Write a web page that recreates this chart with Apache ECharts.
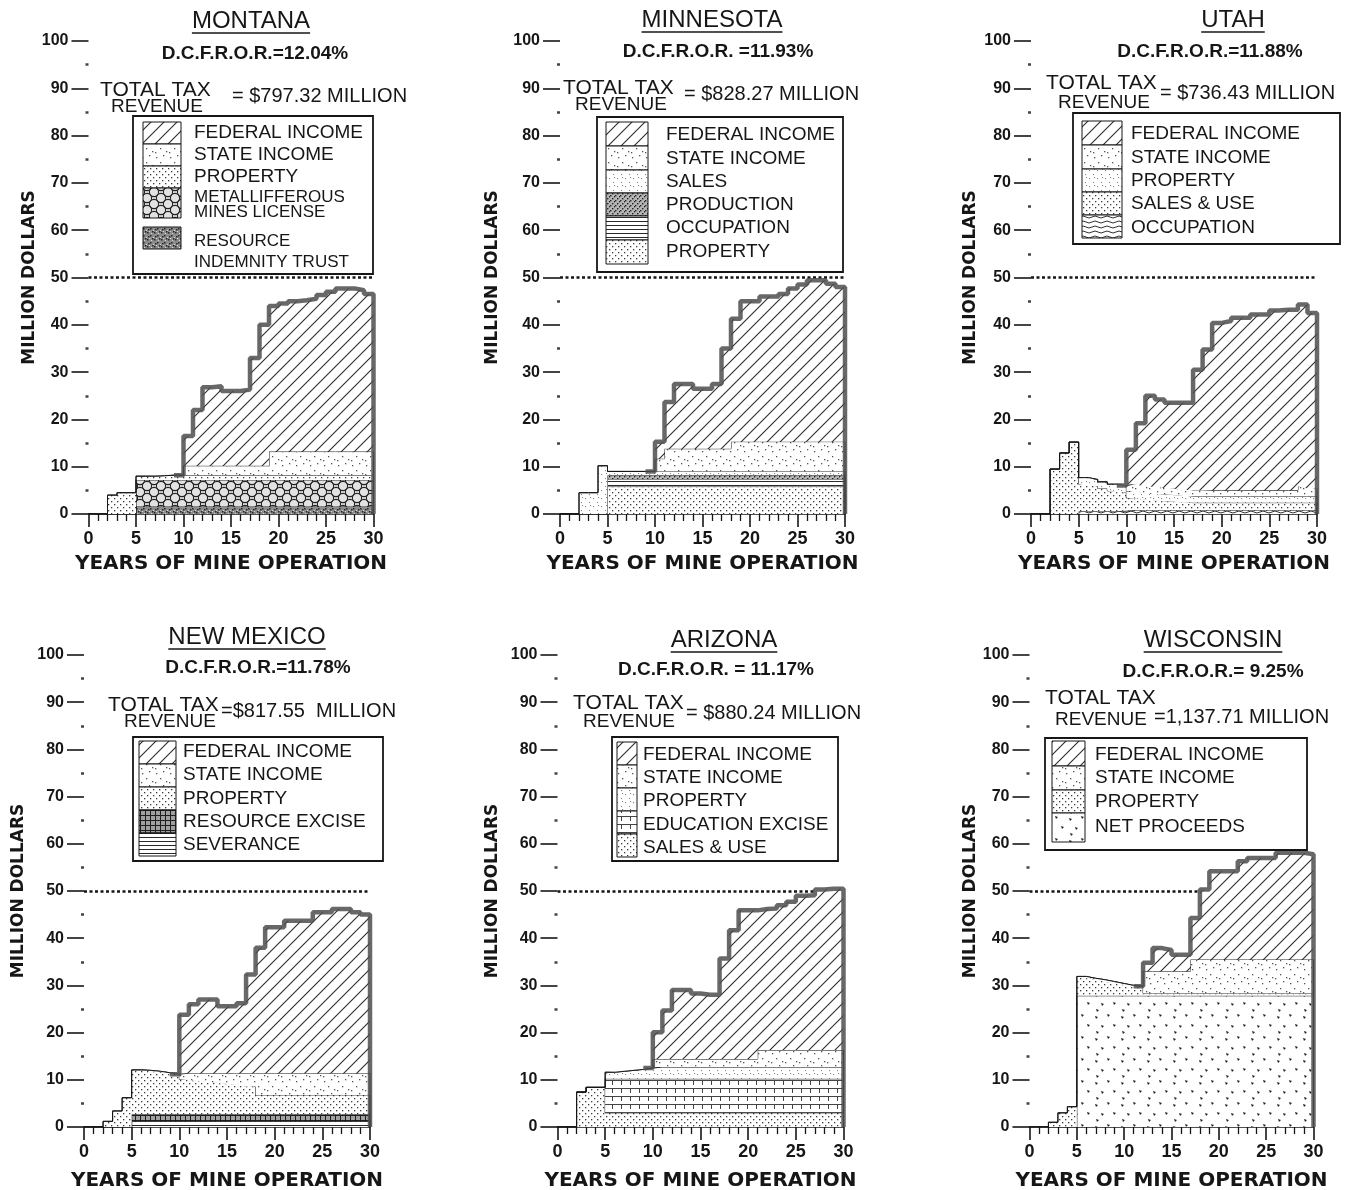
<!DOCTYPE html>
<html>
<head>
<meta charset="utf-8">
<title>Tax revenue over mine life by state</title>
<script src="https://cdn.jsdelivr.net/npm/echarts@6.0.0/dist/echarts.min.js"></script>
<style>
  html, body { margin: 0; padding: 0; background: #fff; }
  #chart { width: 1372px; height: 1190px; }
</style>
</head>
<body>
<div id="chart"></div>
<script>
// ---------------------------------------------------------------
// Annual tax payments (million dollars) for years 0..30 of mine life.
// Each year's value applies to the interval [year, year + 1).
// ---------------------------------------------------------------
const YEARS = [0,1,2,3,4,5,6,7,8,9,10,11,12,13,14,15,16,17,18,19,20,21,22,23,24,25,26,27,28,29,30];
const Y_TICKS = [0,10,20,30,40,50,60,70,80,90,100];
const X_TICKS = [0,5,10,15,20,25,30];

// Montana
const MT_RIT      = [0,0,0,0,0, 1.6,1.6,1.6,1.6,1.6, 1.6,1.6,1.6,1.6,1.6, 1.6,1.6,1.6,1.6,1.6, 1.6,1.6,1.6,1.6,1.6, 1.6,1.6,1.6,1.6,1.6, 0];
const MT_MML      = [0,0,0,0,0, 5.6,5.6,5.6,5.6,5.6, 5.6,5.6,5.6,5.6,5.6, 5.6,5.6,5.6,5.6,5.6, 5.6,5.6,5.6,5.6,5.6, 5.6,5.6,5.6,5.6,5.6, 0];
const MT_PROPERTY = [0,0,4.0,4.5,4.5, 0.8,0.8,0.9,1.0,1.0, 1.0,1.0,1.0,1.0,1.0, 1.0,1.0,1.0,1.0,1.0, 1.0,1.0,1.0,1.0,1.0, 1.0,1.0,1.0,1.0,1.0, 0];
const MT_STATE    = [0,0,0,0,0, 0,0,0,0,0, 2.0,2.0,2.0,2.0,2.0, 2.0,2.0,2.0,2.0,5.0, 5.0,5.0,5.0,5.0,5.0, 5.0,5.0,5.0,5.0,5.0, 0];
const MT_FEDERAL  = [null,null,null,null,null, null,null,null,null,0, 6.3,11.8,16.6,16.8,15.8, 15.8,16.1,22.8,29.8,30.8, 31.3,31.8,32.0,32.3,33.1, 33.8,34.5,34.5,34.1,33.3, 0];

// Minnesota
const MN_PROPERTY   = [0,0,0,0,0, 5.8,5.8,5.8,5.8,5.8, 5.8,5.8,5.8,5.8,5.8, 5.8,5.8,5.8,5.8,5.8, 5.8,5.8,5.8,5.8,5.8, 5.8,5.8,5.8,5.8,5.8, 0];
const MN_OCCUPATION = [0,0,0,0,0, 1.6,1.6,1.6,1.6,1.6, 1.6,1.6,1.6,1.6,1.6, 1.6,1.6,1.6,1.6,1.6, 1.6,1.6,1.6,1.6,1.6, 1.6,1.6,1.6,1.6,1.6, 0];
const MN_PRODUCTION = [0,0,0,0,0, 0.8,0.8,0.8,0.8,0.8, 0.8,0.8,0.8,0.8,0.8, 0.8,0.8,0.8,0.8,0.8, 0.8,0.8,0.8,0.8,0.8, 0.8,0.8,0.8,0.8,0.8, 0];
const MN_SALES      = [0,0,4.5,4.5,10.2, 0.8,0.8,0.8,0.8,0.8, 0.8,0.8,0.8,0.8,0.8, 0.8,0.8,0.8,0.8,0.8, 0.8,0.8,0.8,0.8,0.8, 0.8,0.8,0.8,0.8,0.8, 0];
const MN_STATE      = [0,0,0,0,0, 0,0,0,0,0, 2.7,4.8,4.8,4.8,4.8, 4.8,4.8,4.8,6.3,6.3, 6.3,6.3,6.3,6.3,6.3, 6.3,6.3,6.3,6.3,6.3, 0];
const MN_FEDERAL    = [null,null,null,null,null, null,null,null,null,0, 3.6,9.9,13.7,13.7,12.7, 12.7,13.7,21.2,26.0,29.7, 29.7,30.7,30.7,31.2,32.4, 33.2,34.1,34.1,33.4,32.7, 0];

// Utah
const UT_OCCUPATION = [0,0,0,0,0, 0.6,0.6,0.6,0.6,0.6, 0.8,0.8,0.8,0.8,0.8, 0.8,0.8,0.8,0.8,0.8, 0.8,0.8,0.8,0.8,0.8, 0.8,0.8,0.8,0.8,0.8, 0];
const UT_SALES_USE  = [0,0,9.5,12.9,15.2, 5.7,5.3,4.8,4.3,4.0, 2.6,2.4,2.2,2.0,1.9, 1.8,1.6,1.6,1.6,1.6, 1.6,1.6,1.6,1.6,1.6, 1.6,1.6,1.6,1.6,1.6, 0];
const UT_PROPERTY   = [0,0,0,0,0, 1.4,1.4,1.4,1.4,1.4, 1.4,1.4,1.4,1.4,1.4, 1.4,1.4,1.4,1.4,1.4, 1.4,1.4,1.4,1.4,1.4, 1.4,1.4,1.4,1.4,1.4, 0];
const UT_STATE      = [0,0,0,0,0, 0,0,0,0,0, 1.6,1.6,1.5,1.5,1.4, 1.4,1.3,1.3,1.2,1.2, 1.2,1.2,1.2,1.2,1.2, 1.2,1.2,1.2,2.0,1.6, 0];
const UT_FEDERAL    = [null,null,null,null,null, null,null,null,null,0, 7.2,13.0,19.1,18.5,18.0, 18.1,18.4,25.4,29.8,35.4, 35.8,36.5,36.5,37.2,37.2, 38.0,38.2,38.2,38.5,37.1, 0];

// New Mexico
const NM_SEVERANCE = [0,0,0,0,0, 1.2,1.2,1.2,1.2,1.2, 1.2,1.2,1.2,1.2,1.2, 1.2,1.2,1.2,1.2,1.2, 1.2,1.2,1.2,1.2,1.2, 1.2,1.2,1.2,1.2,1.2, 0];
const NM_EXCISE    = [0,0,0,0,0, 1.5,1.5,1.5,1.5,1.5, 1.5,1.5,1.5,1.5,1.5, 1.5,1.5,1.5,1.5,1.5, 1.5,1.5,1.5,1.5,1.5, 1.5,1.5,1.5,1.5,1.5, 0];
const NM_PROPERTY  = [0,0,1.2,3.4,6.2, 9.4,9.3,9.1,8.8,8.5, 7.4,7.2,7.0,6.8,6.6, 6.4,6.2,5.9,4.1,4.1, 4.1,4.1,4.1,4.1,4.1, 4.1,4.1,4.1,4.1,4.1, 0];
const NM_STATE     = [0,0,0,0,0, 0,0,0,0,0, 1.3,1.5,1.7,1.9,2.1, 2.3,2.5,2.8,4.6,4.6, 4.6,4.6,4.6,4.6,4.6, 4.6,4.6,4.6,4.6,4.6, 0];
const NM_FEDERAL   = [null,null,null,null,null, null,null,null,null,0, 12.4,14.6,15.6,15.6,14.2, 14.2,14.8,20.9,26.6,30.9, 30.9,32.3,32.3,32.3,34.1, 34.1,34.8,34.8,34.1,33.6, 0];

// Arizona
const AZ_SALES_USE = [0,0,7.4,8.4,8.4, 3.0,3.0,3.0,3.0,3.0, 3.0,3.0,3.0,3.0,3.0, 3.0,3.0,3.0,3.0,3.0, 3.0,3.0,3.0,3.0,3.0, 3.0,3.0,3.0,3.0,3.0, 0];
const AZ_EDUCATION = [0,0,0,0,0, 7.2,7.2,7.2,7.2,7.2, 7.2,7.2,7.2,7.2,7.2, 7.2,7.2,7.2,7.2,7.2, 7.2,7.2,7.2,7.2,7.2, 7.2,7.2,7.2,7.2,7.2, 0];
const AZ_PROPERTY  = [0,0,0,0,0, 1.4,1.6,1.8,2.0,2.3, 2.5,2.5,2.5,2.5,2.5, 2.5,2.5,2.5,2.5,2.5, 2.5,2.5,2.5,2.5,2.5, 2.5,2.5,2.5,2.5,2.5, 0];
const AZ_STATE     = [0,0,0,0,0, 0,0,0,0,0, 1.7,1.7,1.7,1.7,1.7, 1.7,1.7,1.7,1.7,1.7, 1.7,3.6,3.6,3.6,3.6, 3.6,3.6,3.6,3.6,3.6, 0];
const AZ_FEDERAL   = [null,null,null,null,null, null,null,null,null,0, 5.7,10.3,14.6,14.6,13.9, 13.6,13.6,21.3,27.3,31.5, 31.5,29.9,30.0,30.7,31.4, 32.7,32.8,34.0,34.2,34.2, 0];

// Wisconsin
const WI_NET_PROCEEDS = [0,0,0,0,0, 27.8,27.8,27.8,27.8,27.8, 27.8,27.8,27.8,27.8,27.8, 27.8,27.8,27.8,27.8,27.8, 27.8,27.8,27.8,27.8,27.8, 27.8,27.8,27.8,27.8,27.8, 0];
const WI_PROPERTY     = [0,0,1.0,3.0,4.3, 4.1,3.7,3.4,3.0,2.6, 2.2,2.0,0.5,0.5,0.5, 0.5,0.5,0.5,0.5,0.5, 0.5,0.5,0.5,0.5,0.5, 0.5,0.5,0.5,0.5,0.5, 0];
const WI_STATE        = [0,0,0,0,0, 0,0,0,0,0, 0,0,4.7,4.7,4.7, 4.7,4.7,7.2,7.2,7.2, 7.2,7.2,7.2,7.2,7.2, 7.2,7.2,7.2,7.2,7.2, 0];
const WI_FEDERAL      = [null,null,null,null,null, null,null,null,null,null, null,0,1.8,4.9,4.5, 3.5,3.5,8.8,14.8,18.7, 18.7,18.7,20.8,21.5,21.5, 21.5,22.6,22.6,22.6,22.3, 0];

// ---------------------------------------------------------------
// Styling
// ---------------------------------------------------------------
const INK = '#161616';
const SANS = '"Liberation Sans", Arial, sans-serif';
const WIDE = '"DejaVu Sans", sans-serif';

function tile(w, h, bg, paint) {
  const c = document.createElement('canvas');
  c.width = w; c.height = h;
  const g = c.getContext('2d');
  g.fillStyle = bg; g.fillRect(0, 0, w, h);
  paint(g);
  return { image: c, repeat: 'repeat' };
}
function specks(g, color, size, pts) {
  g.fillStyle = color;
  for (const [x, y] of pts) g.fillRect(x, y, size, size);
}

// Fill textures used for the tax categories
const TEX = {
  hatch: tile(13, 13, '#fff', g => {
    g.strokeStyle = '#2c2c2c'; g.lineWidth = 1.1;
    g.beginPath();
    g.moveTo(-2, 15); g.lineTo(15, -2);
    g.moveTo(-2, 2); g.lineTo(2, -2);
    g.moveTo(11, 15); g.lineTo(15, 11);
    g.stroke();
  }),
  sparse: tile(14, 14, '#fff', g => specks(g, '#555', 1.3, [[2,3],[9,1],[6,8],[12,11],[1,12]])),
  dots: tile(6, 6, '#fff', g => specks(g, '#3a3a3a', 1.3, [[0,0],[3,3]])),
  fine: tile(8, 8, '#fff', g => specks(g, '#888', 1.1, [[1,2],[5,6],[6,1]])),
  dense: tile(5, 5, '#b4b4b4', g => specks(g, '#222', 1.4, [[0,0],[2,3],[4,1]])),
  rit: tile(7, 7, '#8c8c8c', g => {
    specks(g, '#262626', 1.5, [[0,1],[3,4],[5,0],[1,5]]);
    specks(g, '#d8d8d8', 1, [[4,2],[2,0],[6,6]]);
  }),
  chain: tile(14, 12, '#e2e2e2', g => {
    g.strokeStyle = '#222'; g.lineWidth = 1.1;
    [[7,6],[0,0],[14,0],[0,12],[14,12]].forEach(([x, y]) => {
      g.beginPath(); g.arc(x, y, 4.6, 0, Math.PI * 2); g.stroke();
    });
  }),
  hlines: tile(6, 4, '#fff', g => { g.fillStyle = '#2a2a2a'; g.fillRect(0, 1, 6, 1); }),
  waves: tile(12, 5, '#fff', g => {
    g.strokeStyle = '#333'; g.lineWidth = 1;
    g.beginPath(); g.moveTo(0, 2);
    g.quadraticCurveTo(3, 0, 6, 2); g.quadraticCurveTo(9, 4, 12, 2);
    g.stroke();
  }),
  cross: tile(5, 5, '#a0a0a0', g => { g.fillStyle = '#1e1e1e'; g.fillRect(0, 0, 5, 1); g.fillRect(0, 0, 1, 5); }),
  grid: tile(9, 8, '#fff', g => { g.fillStyle = '#444'; g.fillRect(0, 0, 9, 1); g.fillRect(0, 0, 1, 5); }),
  tri: tile(26, 22, '#fff', g => {
    g.fillStyle = '#222';
    [[3,4],[15,2],[9,13],[21,12],[4,19]].forEach(([x, y]) => {
      g.beginPath(); g.moveTo(x, y); g.lineTo(x + 3, y + 1); g.lineTo(x + 1, y + 3); g.closePath(); g.fill();
    });
  })
};

// Plot rectangles and axis-name offsets for the six panels
const GRIDS = [
  { left: 88.5,  top: 41,  width: 285, height: 473, yNameGap: 47, xNameGap: 40 },
  { left: 560,   top: 41,  width: 285, height: 473, yNameGap: 59, xNameGap: 40 },
  { left: 1031,  top: 41,  width: 286, height: 473, yNameGap: 52, xNameGap: 40 },
  { left: 84,    top: 655, width: 286, height: 472, yNameGap: 57, xNameGap: 44 },
  { left: 557.5, top: 655, width: 286, height: 472, yNameGap: 56, xNameGap: 44 },
  { left: 1029.5,top: 655, width: 284, height: 472, yNameGap: 49, xNameGap: 44 }
];

// Stacks are listed bottom to top; legends are listed top to bottom.
const PANELS = [
  {
    title: 'MONTANA', rate: 'D.C.F.R.O.R.=12.04%', amount: '= $797.32 MILLION',
    layers: [
      [MT_RIT, 'rit'], [MT_MML, 'chain'], [MT_PROPERTY, 'dots'], [MT_STATE, 'sparse'], [MT_FEDERAL, 'hatch']
    ],
    legend: [
      { lines: ['FEDERAL INCOME'], tex: 'hatch' },
      { lines: ['STATE INCOME'], tex: 'sparse' },
      { lines: ['PROPERTY'], tex: 'dots' },
      { lines: ['METALLIFFEROUS', 'MINES LICENSE'], tex: 'chain' },
      { lines: ['RESOURCE', 'INDEMNITY TRUST'], tex: 'rit' }
    ]
  },
  {
    title: 'MINNESOTA', rate: 'D.C.F.R.O.R. =11.93%', amount: '= $828.27 MILLION',
    layers: [
      [MN_PROPERTY, 'dots'], [MN_OCCUPATION, 'hlines'], [MN_PRODUCTION, 'dense'], [MN_SALES, 'fine'],
      [MN_STATE, 'sparse'], [MN_FEDERAL, 'hatch']
    ],
    legend: [
      { lines: ['FEDERAL INCOME'], tex: 'hatch' },
      { lines: ['STATE INCOME'], tex: 'sparse' },
      { lines: ['SALES'], tex: 'fine' },
      { lines: ['PRODUCTION'], tex: 'dense' },
      { lines: ['OCCUPATION'], tex: 'hlines' },
      { lines: ['PROPERTY'], tex: 'dots' }
    ]
  },
  {
    title: 'UTAH', rate: 'D.C.F.R.O.R.=11.88%', amount: '= $736.43 MILLION',
    layers: [
      [UT_OCCUPATION, 'waves'], [UT_SALES_USE, 'dots'], [UT_PROPERTY, 'fine'], [UT_STATE, 'sparse'], [UT_FEDERAL, 'hatch']
    ],
    legend: [
      { lines: ['FEDERAL INCOME'], tex: 'hatch' },
      { lines: ['STATE INCOME'], tex: 'sparse' },
      { lines: ['PROPERTY'], tex: 'fine' },
      { lines: ['SALES & USE'], tex: 'dots' },
      { lines: ['OCCUPATION'], tex: 'waves' }
    ]
  },
  {
    title: 'NEW MEXICO', rate: 'D.C.F.R.O.R.=11.78%', amount: '=$817.55  MILLION',
    layers: [
      [NM_SEVERANCE, 'hlines'], [NM_EXCISE, 'cross'], [NM_PROPERTY, 'dots'], [NM_STATE, 'sparse'], [NM_FEDERAL, 'hatch']
    ],
    legend: [
      { lines: ['FEDERAL INCOME'], tex: 'hatch' },
      { lines: ['STATE INCOME'], tex: 'sparse' },
      { lines: ['PROPERTY'], tex: 'dots' },
      { lines: ['RESOURCE EXCISE'], tex: 'cross' },
      { lines: ['SEVERANCE'], tex: 'hlines' }
    ]
  },
  {
    title: 'ARIZONA', rate: 'D.C.F.R.O.R. = 11.17%', amount: '= $880.24 MILLION',
    layers: [
      [AZ_SALES_USE, 'dots'], [AZ_EDUCATION, 'grid'], [AZ_PROPERTY, 'fine'], [AZ_STATE, 'sparse'], [AZ_FEDERAL, 'hatch']
    ],
    legend: [
      { lines: ['FEDERAL INCOME'], tex: 'hatch' },
      { lines: ['STATE INCOME'], tex: 'sparse' },
      { lines: ['PROPERTY'], tex: 'fine' },
      { lines: ['EDUCATION EXCISE'], tex: 'grid' },
      { lines: ['SALES & USE'], tex: 'dots' }
    ]
  },
  {
    title: 'WISCONSIN', rate: 'D.C.F.R.O.R.= 9.25%', amount: '=1,137.71 MILLION',
    layers: [
      [WI_NET_PROCEEDS, 'tri'], [WI_PROPERTY, 'dots'], [WI_STATE, 'sparse'], [WI_FEDERAL, 'hatch']
    ],
    legend: [
      { lines: ['FEDERAL INCOME'], tex: 'hatch' },
      { lines: ['STATE INCOME'], tex: 'sparse' },
      { lines: ['PROPERTY'], tex: 'dots' },
      { lines: ['NET PROCEEDS'], tex: 'tri' }
    ]
  }
];

// Page placement of the lettering around each panel
const LETTERING = [
  { title: [251, 21], rate: [255, 54], tt: [100, 90], rv: [111, 107], am: [232, 96],
    box: [133, 116, 240, 158], sw: [143, 38], tx: 194,
    rows: [[122, 22, [133]], [144, 22, [155]], [166, 22, [177]], [188, 30, [197, 212]], [227, 22, [241, 262]]] },
  { title: [712, 20], rate: [718, 52], tt: [563, 88], rv: [575, 105], am: [684, 94],
    box: [597, 117, 246, 155], sw: [606, 42], tx: 666,
    rows: [[122, 24, [135]], [146, 24, [159]], [170, 23, [182]], [193, 23, [205]], [216, 24, [228]], [240, 24, [252]]] },
  { title: [1233, 20], rate: [1210, 52], tt: [1046, 83], rv: [1058, 103], am: [1160, 93],
    box: [1073, 113, 267, 131], sw: [1082, 40], tx: 1131,
    rows: [[121, 24, [134]], [145, 24, [158]], [169, 23, [181]], [192, 23, [204]], [215, 23, [228]]] },
  { title: [247, 637], rate: [258, 668], tt: [108, 705], rv: [124, 722], am: [221, 711],
    box: [133, 737, 250, 124], sw: [139, 37], tx: 183,
    rows: [[741, 23, [752]], [764, 23, [775]], [787, 23, [799]], [810, 23, [822]], [833, 23, [845]]] },
  { title: [724, 640], rate: [716, 670], tt: [573, 703], rv: [583, 722], am: [686, 713],
    box: [612, 737, 226, 124], sw: [617, 20], tx: 643,
    rows: [[742, 23, [755]], [765, 23, [778]], [788, 23, [801]], [811, 23, [825]], [834, 23, [848]]] },
  { title: [1213, 640], rate: [1213, 672], tt: [1045, 698], rv: [1055, 720], am: [1154, 717],
    box: [1045, 738, 262, 112], sw: [1052, 33], tx: 1095,
    rows: [[741, 25, [755]], [766, 24, [778]], [790, 23, [802]], [813, 29, [827]]] }
];

// ---------------------------------------------------------------
// Build the option
// ---------------------------------------------------------------
const mctx = document.createElement('canvas').getContext('2d');
function textWidth(t, font) { mctx.font = font; return mctx.measureText(t).width; }

function txt(x, y, text, font, align) {
  return {
    type: 'text', x, y, silent: true, z: 50,
    style: { text, font, fill: INK, align: align || 'left', verticalAlign: 'middle',
             textAlign: align || 'left', textVerticalAlign: 'middle' }
  };
}

const grids = [], xAxes = [], yAxes = [], series = [], graphics = [];
const NP = GRIDS.length;

GRIDS.forEach((g, i) => {
  grids.push({ left: g.left, top: g.top, width: g.width, height: g.height, containLabel: false, outerBoundsMode: 'none' });

  // visible year scale with yearly minor ticks
  xAxes[i] = {
    gridIndex: i, type: 'value', min: 0, max: 30, interval: 5,
    axisLine: { show: true, lineStyle: { color: INK, width: 1.5 } },
    axisTick: { show: true, length: 13, lineStyle: { color: INK, width: 1.6 } },
    minorTick: { show: true, splitNumber: 5, length: 7, lineStyle: { color: INK, width: 1.3 } },
    splitLine: { show: false }, minorSplitLine: { show: false },
    axisLabel: { color: INK, fontSize: 18, fontWeight: 'bold', fontFamily: SANS, margin: 16,
                 formatter: v => (X_TICKS.indexOf(v) >= 0 ? String(v) : '') },
    name: 'YEARS OF MINE OPERATION', nameLocation: 'middle', nameGap: g.xNameGap,
    nameTextStyle: { color: INK, fontSize: 20, fontWeight: 'bold', fontFamily: WIDE }
  };
  // year categories carrying the stacked series (same span as the year scale)
  xAxes[NP + i] = {
    gridIndex: i, type: 'category', data: YEARS.map(String), boundaryGap: false, show: false
  };

  yAxes.push({
    gridIndex: i, type: 'value', min: 0, max: 100, interval: 10,
    axisLine: { show: false },
    axisTick: { show: true, length: 17, lineStyle: { color: INK, width: 1.6 } },
    minorTick: { show: true, splitNumber: 2, length: 3, lineStyle: { color: '#444', width: 2.5 } },
    splitLine: { show: false }, minorSplitLine: { show: false },
    axisLabel: { color: INK, fontSize: 16, fontWeight: 'bold', fontFamily: SANS, margin: 20,
                 formatter: v => (Y_TICKS.indexOf(v) >= 0 ? String(v) : '') },
    name: 'MILLION DOLLARS', nameLocation: 'middle', nameGap: g.yNameGap, nameRotate: 90,
    nameTextStyle: { color: INK, fontSize: 17, fontWeight: 'bold', fontFamily: WIDE }
  });

  const p = PANELS[i];
  p.layers.forEach(([values, texKey], k) => {
    const isTop = k === p.layers.length - 1;
    const s = {
      type: 'line', xAxisIndex: NP + i, yAxisIndex: i, stack: 'tax' + i, step: 'end',
      symbol: 'none', silent: true, clip: !isTop, z: 2 + k,
      data: values.map(v => (v == null ? '-' : v)),
      lineStyle: isTop ? { color: 'rgba(78,78,78,0.85)', width: 4.5 } : { color: INK, width: 1 },
      areaStyle: { color: TEX[texKey], opacity: 1 }
    };
    if (k === 0) {
      s.markLine = {
        silent: true, symbol: 'none', label: { show: false },
        lineStyle: { color: INK, width: 2.5, type: [3, 2.5] },
        data: [{ yAxis: 50 }]
      };
    }
    series.push(s);
  });

  // lettering
  const L = LETTERING[i];
  const titleFont = '24px ' + SANS;
  graphics.push(txt(L.title[0], L.title[1], p.title, titleFont, 'center'));
  const tw = textWidth(p.title, titleFont);
  graphics.push({ type: 'line', silent: true, z: 50,
    shape: { x1: L.title[0] - tw / 2, y1: L.title[1] + 12, x2: L.title[0] + tw / 2, y2: L.title[1] + 12 },
    style: { stroke: INK, lineWidth: 1.6 } });
  graphics.push(txt(L.rate[0], L.rate[1], p.rate, 'bold 19px ' + SANS, 'center'));
  graphics.push(txt(L.tt[0], L.tt[1], 'TOTAL TAX', '21px ' + SANS));
  graphics.push(txt(L.rv[0], L.rv[1], 'REVENUE', '19px ' + SANS));
  graphics.push(txt(L.am[0], L.am[1], p.amount, '20px ' + SANS));

  // legend box
  const [bx, by, bw, bh] = L.box;
  graphics.push({ type: 'rect', silent: true, z: 40,
    shape: { x: bx, y: by, width: bw, height: bh },
    style: { fill: '#fff', stroke: INK, lineWidth: 1.8 } });
  p.legend.forEach((entry, r) => {
    const [sy, sh, tys] = L.rows[r];
    graphics.push({ type: 'rect', silent: true, z: 45,
      shape: { x: L.sw[0], y: sy, width: L.sw[1], height: sh },
      style: { fill: TEX[entry.tex], stroke: INK, lineWidth: 1 } });
    entry.lines.forEach((line, li) => {
      graphics.push(txt(L.tx, tys[li], line, (entry.lines.length > 1 ? '17px ' : '19px ') + SANS));
    });
  });
});

const chart = echarts.init(document.getElementById('chart'), null, { renderer: 'canvas' });
chart.setOption({
  animation: false,
  backgroundColor: '#fff',
  grid: grids,
  xAxis: xAxes,
  yAxis: yAxes,
  series: series,
  graphic: graphics
});
</script>
</body>
</html>
